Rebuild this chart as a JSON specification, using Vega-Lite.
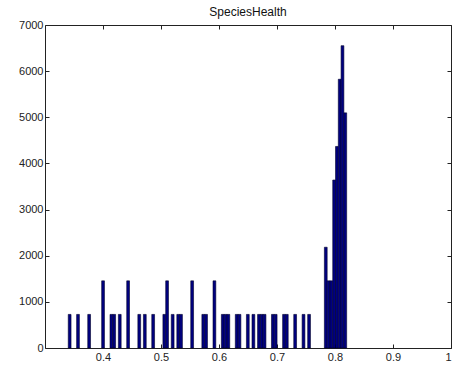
{
  "$schema": "https://vega.github.io/schema/vega-lite/v6.json",
  "width": 406,
  "height": 323,
  "autosize": {"type": "none"},
  "padding": {"left": 45, "top": 25, "right": 2, "bottom": 18},
  "background": "white",
  "title": {"text": "SpeciesHealth", "fontSize": 12, "font": "Liberation Sans", "fontWeight": "normal", "color": "#111111", "offset": 0},
  "config": {
    "view": {"stroke": null},
    "axis": {"domainColor": "#222222", "tickColor": "#222222", "labelColor": "#222222", "labelFont": "Liberation Sans", "labelFontSize": 11, "grid": false, "title": null, "tickSize": -4, "labelOverlap": false, "domainWidth": 1, "tickWidth": 1}
  },
  "data": {"values": [
    {"start": 0.3401, "end": 0.3449, "count": 728},
    {"start": 0.3545, "end": 0.3593, "count": 728},
    {"start": 0.3737, "end": 0.3785, "count": 728},
    {"start": 0.3977, "end": 0.4025, "count": 1456},
    {"start": 0.4121, "end": 0.4169, "count": 728},
    {"start": 0.4169, "end": 0.4217, "count": 728},
    {"start": 0.4265, "end": 0.4313, "count": 728},
    {"start": 0.4409, "end": 0.4457, "count": 1456},
    {"start": 0.4601, "end": 0.4649, "count": 728},
    {"start": 0.4697, "end": 0.4745, "count": 728},
    {"start": 0.4841, "end": 0.4889, "count": 728},
    {"start": 0.5033, "end": 0.5081, "count": 728},
    {"start": 0.5081, "end": 0.5129, "count": 1456},
    {"start": 0.5177, "end": 0.5225, "count": 728},
    {"start": 0.5273, "end": 0.5321, "count": 728},
    {"start": 0.5321, "end": 0.5369, "count": 728},
    {"start": 0.5513, "end": 0.5561, "count": 1456},
    {"start": 0.5705, "end": 0.5753, "count": 728},
    {"start": 0.5753, "end": 0.5801, "count": 728},
    {"start": 0.5897, "end": 0.5945, "count": 1456},
    {"start": 0.6041, "end": 0.6089, "count": 728},
    {"start": 0.6089, "end": 0.6137, "count": 728},
    {"start": 0.6137, "end": 0.6185, "count": 728},
    {"start": 0.6281, "end": 0.6329, "count": 728},
    {"start": 0.6329, "end": 0.6377, "count": 728},
    {"start": 0.6473, "end": 0.6521, "count": 728},
    {"start": 0.6569, "end": 0.6617, "count": 728},
    {"start": 0.6665, "end": 0.6713, "count": 728},
    {"start": 0.6713, "end": 0.6761, "count": 728},
    {"start": 0.6761, "end": 0.6809, "count": 728},
    {"start": 0.6905, "end": 0.6953, "count": 728},
    {"start": 0.6953, "end": 0.7001, "count": 728},
    {"start": 0.7097, "end": 0.7145, "count": 728},
    {"start": 0.7145, "end": 0.7193, "count": 728},
    {"start": 0.7289, "end": 0.7337, "count": 728},
    {"start": 0.7433, "end": 0.7481, "count": 728},
    {"start": 0.7529, "end": 0.7577, "count": 728},
    {"start": 0.7817, "end": 0.7865, "count": 2184},
    {"start": 0.7865, "end": 0.7913, "count": 1456},
    {"start": 0.7913, "end": 0.7961, "count": 1456},
    {"start": 0.7961, "end": 0.8009, "count": 3640},
    {"start": 0.8009, "end": 0.8057, "count": 4368},
    {"start": 0.8057, "end": 0.8105, "count": 5824},
    {"start": 0.8105, "end": 0.8153, "count": 6552},
    {"start": 0.8153, "end": 0.8201, "count": 5096}
  ]},
  "layer": [
    {
      "mark": {"type": "bar", "fill": "#000080", "stroke": "#00002a", "strokeWidth": 0.6},
      "encoding": {
        "x": {"field": "start", "type": "quantitative", "scale": {"domain": [0.3, 1.0], "nice": false, "zero": false},
              "axis": {"orient": "bottom", "values": [0.4, 0.5, 0.6, 0.7, 0.8, 0.9, 1.0], "labelExpr": "datum.value >= 0.999 ? '1' : format(datum.value, '.1f')", "labelPadding": 7}},
        "x2": {"field": "end"},
        "y": {"field": "count", "type": "quantitative", "scale": {"domain": [0, 7000], "nice": false},
              "axis": {"orient": "left", "values": [0, 1000, 2000, 3000, 4000, 5000, 6000, 7000], "format": "d", "labelPadding": 6}},
        "y2": {"datum": 0}
      }
    },
    {
      "mark": {"type": "bar", "opacity": 0},
      "encoding": {
        "x": {"field": "start", "type": "quantitative", "axis": {"orient": "top", "values": [0.4, 0.5, 0.6, 0.7, 0.8, 0.9, 1.0], "labels": false}},
        "x2": {"field": "end"},
        "y": {"field": "count", "type": "quantitative", "axis": {"orient": "right", "values": [0, 1000, 2000, 3000, 4000, 5000, 6000, 7000], "labels": false}},
        "y2": {"datum": 0}
      }
    }
  ],
  "resolve": {"axis": {"x": "independent", "y": "independent"}}
}
